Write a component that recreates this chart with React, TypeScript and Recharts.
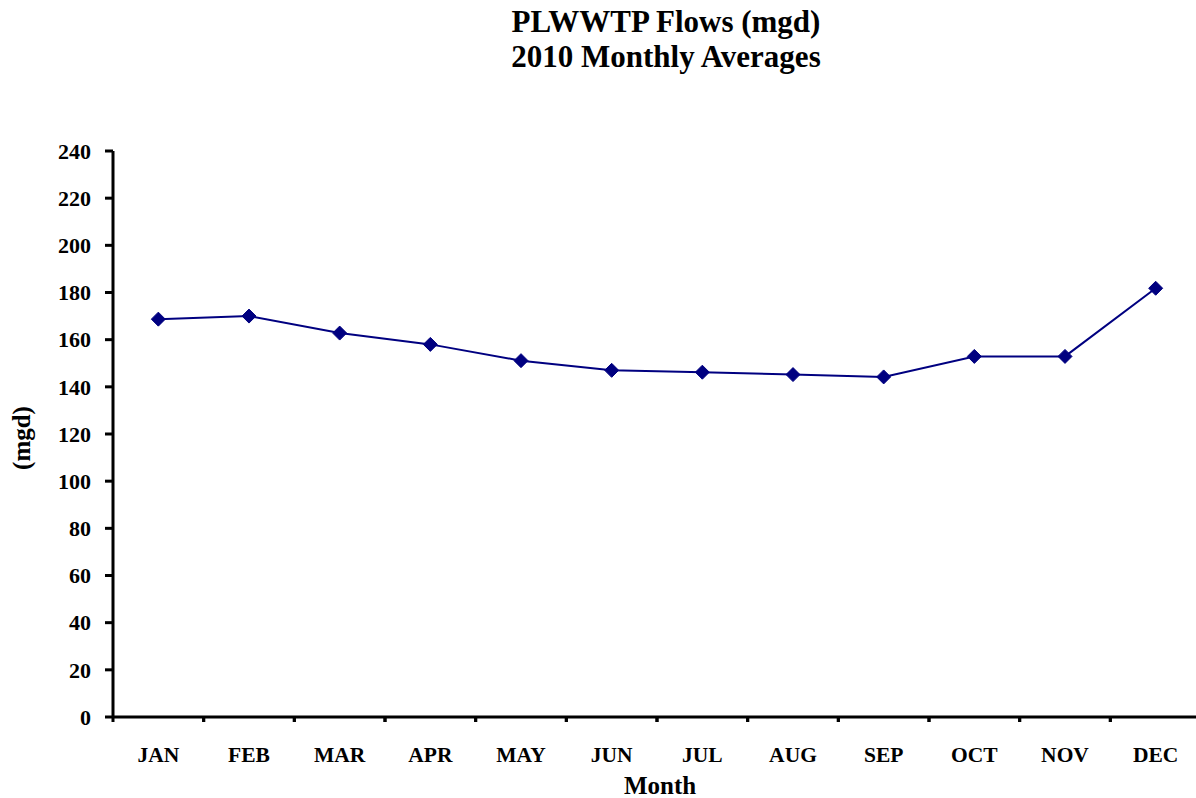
import React from "react";
import { LineChart, Line, XAxis, YAxis } from "recharts";

const months = ["JAN", "FEB", "MAR", "APR", "MAY", "JUN", "JUL", "AUG", "SEP", "OCT", "NOV", "DEC"];
const flows = [168.7, 170.0, 162.8, 158.0, 151.1, 147.0, 146.2, 145.2, 144.2, 152.9, 152.9, 181.8];
const yTicks = [0, 20, 40, 60, 80, 100, 120, 140, 160, 180, 200, 220, 240];

const data = months.map((m, i) => ({ month: m, flow: flows[i] }));

const FONT = "'Liberation Serif', 'Times New Roman', serif";
const NAVY = "#000080";
const CHART_W = 1201;
const CHART_H = 798;
const Y_AXIS_W = 113;
const BAND = (CHART_W - Y_AXIS_W) / months.length;

// month label plus the small tick marks at the category edges
const MonthTick = (props: any) => {
  const { x, y, payload } = props;
  return (
    <g>
      <line x1={x - BAND / 2} x2={x - BAND / 2} y1={y} y2={y + 5} stroke="#000" strokeWidth={3} />
      <line x1={x + BAND / 2} x2={x + BAND / 2} y1={y} y2={y + 5} stroke="#000" strokeWidth={3} />
      <text
        x={x}
        y={y + 45}
        textAnchor="middle"
        fill="#000"
        fontSize={21.5}
        fontWeight="bold"
        fontFamily={FONT}
      >
        {payload.value}
      </text>
    </g>
  );
};

const Diamond = (props: any) => {
  const { cx, cy } = props;
  if (cx == null || cy == null) return null;
  const r = 7;
  return (
    <polygon
      points={`${cx},${cy - r} ${cx + r},${cy} ${cx},${cy + r} ${cx - r},${cy}`}
      fill={NAVY}
      stroke={NAVY}
      strokeWidth={1}
    />
  );
};

const YLabel = (props: any) => {
  const vb = props.viewBox || { x: 0, y: 151, width: Y_AXIS_W, height: 566 };
  const cx = vb.x + 21;
  const cy = vb.y + vb.height / 2 + 4;
  return (
    <text
      x={cx}
      y={cy}
      transform={`rotate(-90, ${cx}, ${cy})`}
      textAnchor="middle"
      dominantBaseline="central"
      fill="#000"
      fontSize={25}
      fontWeight="bold"
      fontFamily={FONT}
    >
      (mgd)
    </text>
  );
};

const XLabel = (props: any) => {
  const vb = props.viewBox || { x: Y_AXIS_W, y: 717, width: CHART_W - Y_AXIS_W, height: 81 };
  return (
    <text
      x={vb.x + vb.width / 2 + 3}
      y={vb.y + vb.height - 4}
      textAnchor="middle"
      fill="#000"
      fontSize={25}
      fontWeight="bold"
      fontFamily={FONT}
    >
      Month
    </text>
  );
};

export default function App() {
  return (
    <div
      style={{
        position: "absolute",
        left: 0,
        top: 0,
        width: 1196,
        height: CHART_H,
        overflow: "hidden",
        background: "#fff",
        fontFamily: FONT
      }}
    >
      <div
        style={{
          position: "absolute",
          left: 366,
          top: 4,
          width: 600,
          textAlign: "center",
          fontSize: 31,
          lineHeight: "35px",
          fontWeight: "bold",
          color: "#000"
        }}
      >
        <div>PLWWTP Flows (mgd)</div>
        <div>2010 Monthly Averages</div>
      </div>
      <LineChart
        width={CHART_W}
        height={CHART_H}
        data={data}
        margin={{ top: 151, right: 0, bottom: 0, left: 0 }}
      >
        <XAxis
          dataKey="month"
          scale="band"
          height={81}
          interval={0}
          axisLine={{ stroke: "#000", strokeWidth: 3 }}
          tickLine={false}
          tickSize={0}
          tickMargin={0}
          tick={<MonthTick />}
          label={<XLabel />}
        />
        <YAxis
          width={Y_AXIS_W}
          domain={[0, 240]}
          ticks={yTicks}
          interval={0}
          axisLine={{ stroke: "#000", strokeWidth: 3 }}
          tickLine={{ stroke: "#000", strokeWidth: 3 }}
          tickSize={8}
          tickMargin={14}
          tick={{ fill: "#000", fontSize: 22, fontWeight: "bold", fontFamily: FONT }}
          label={<YLabel />}
        />
        <Line
          type="linear"
          dataKey="flow"
          stroke={NAVY}
          strokeWidth={2}
          dot={<Diamond />}
          activeDot={false}
          isAnimationActive={false}
        />
      </LineChart>
    </div>
  );
}
